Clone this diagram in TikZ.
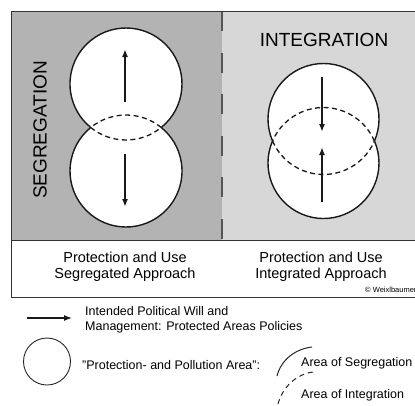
\documentclass[tikz,border=0pt]{standalone}
\usepackage{fontspec}
\setmainfont{Liberation Sans}
\usetikzlibrary{arrows.meta}

\begin{document}
\begin{tikzpicture}[
    x=1pt, y=1pt,
    every node/.style={inner sep=0pt},
    outline/.style={line width=1.4pt, black!90},
    hidden/.style={line width=1.3pt, black!90, dash pattern=on 5pt off 3.5pt},
    will/.style={-{Latex[length=8pt,width=6pt]}, line width=1.6pt, black!90},
]

\definecolor{segfill}{HTML}{B3B3B3}   % left panel
\definecolor{intfill}{HTML}{D7D7D7}   % right panel
\definecolor{rulecolor}{HTML}{555555}

\def\bigfont{\fontsize{19}{22}\selectfont}
\def\capfont{\fontsize{14.5}{16}\selectfont}
\def\legfont{\fontsize{12.5}{15}\selectfont}

\useasboundingbox (0,0) rectangle (415,-405);

% ---------------------------------------------------------------- panels
\fill[segfill] (11,-11) rectangle (222,-240);
\fill[intfill] (222,-11) rectangle (420,-240);
\draw[rulecolor, line width=1.4pt, dash pattern=on 20pt off 21.5pt]
    (222,-11) -- (222,-240);
\draw[black!80, line width=1pt] (420,-240) -- (11,-240);
\draw[black!80, line width=1pt] (420,-11) -- (11,-11) -- (11,-297) -- (420,-297);

% ---------------------------------------------------------------- circles
% two circles per panel; the arcs that lie inside the other circle are dashed
\foreach \cx/\ctop/\cbot/\r in {126/84/171/56, 323.5/119/163/55.5} {
  \pgfmathsetmacro{\a}{asin((\cbot-\ctop)/2/\r)}
  \fill[white] (\cx,-\ctop) circle[radius=\r];
  \fill[white] (\cx,-\cbot) circle[radius=\r];
  \draw[outline] (\cx,-\ctop) ++(-\a:\r)
      arc[start angle=-\a, end angle=180+\a, radius=\r];
  \draw[outline] (\cx,-\cbot) ++(180-\a:\r)
      arc[start angle=180-\a, end angle=360+\a, radius=\r];
  \draw[hidden] (\cx,-\ctop) ++(180+\a:\r)
      arc[start angle=180+\a, end angle=360-\a, radius=\r];
  \draw[hidden] (\cx,-\cbot) ++(\a:\r)
      arc[start angle=\a, end angle=180-\a, radius=\r];
}

% ---------------------------------------------------------------- arrows
\coordinate (segupS) at (125,-102);  \coordinate (segupE) at (125,-49);
\coordinate (segdnS) at (125,-154);  \coordinate (segdnE) at (125,-207);
\coordinate (intdnS) at (322,-77);   \coordinate (intdnE) at (322,-132);
\coordinate (intupS) at (322,-202);  \coordinate (intupE) at (322,-147);
\draw[will] (segupS) -- (segupE);
\draw[will] (segdnS) -- (segdnE);
\draw[will] (intdnS) -- (intdnE);
\draw[will] (intupS) -- (intupE);

% ---------------------------------------------------------------- titles
\node[font=\bigfont, rotate=90] (segtitle) at (40,-130) {SEGREGATION};
\node[font=\bigfont] (inttitle) at (324,-40) {INTEGRATION};

\node[font=\capfont, align=center] (segcap) at (125,-267)
    {Protection and Use\\Segregated Approach};
\node[font=\capfont, align=center] (intcap) at (321,-267)
    {Protection and Use\\Integrated Approach};
\node[font=\fontsize{7.5}{8}\selectfont, anchor=west] (copyr) at (365,-290)
    {© Weixlbaumer};

% ---------------------------------------------------------------- legend
\coordinate (legS) at (27,-318);
\coordinate (legE) at (72,-318);
\draw[will, line width=1.3pt] (legS) -- (legE);
\node[font=\legfont, align=left, anchor=west] (willtxt) at (85,-319.5)
    {Intended Political Will and\\Management: Protected Areas Policies};

\draw[black!85, line width=0.9pt] (47,-361.5) circle[radius=23.5];
\node[font=\legfont, anchor=west] (areatxt) at (82,-365)
    {"Protection- and Pollution Area":};

\coordinate (segarcS) at (277,-376);
\coordinate (segarcE) at (312,-347);
\coordinate (intarcS) at (278,-404);
\coordinate (intarcE) at (313,-372);
\draw[black!85, line width=1pt]
    (segarcS) .. controls (281,-360) and (295,-349) .. (segarcE);
\draw[black!85, line width=1pt, dash pattern=on 5pt off 4pt]
    (intarcS) .. controls (282,-388) and (296,-374) .. (intarcE);
\node[font=\legfont, anchor=west] (segtxt) at (301,-363) {Area of Segregation};
\node[font=\legfont, anchor=west] (inttxt) at (301,-395) {Area of Integration};

\end{tikzpicture}
\end{document}
